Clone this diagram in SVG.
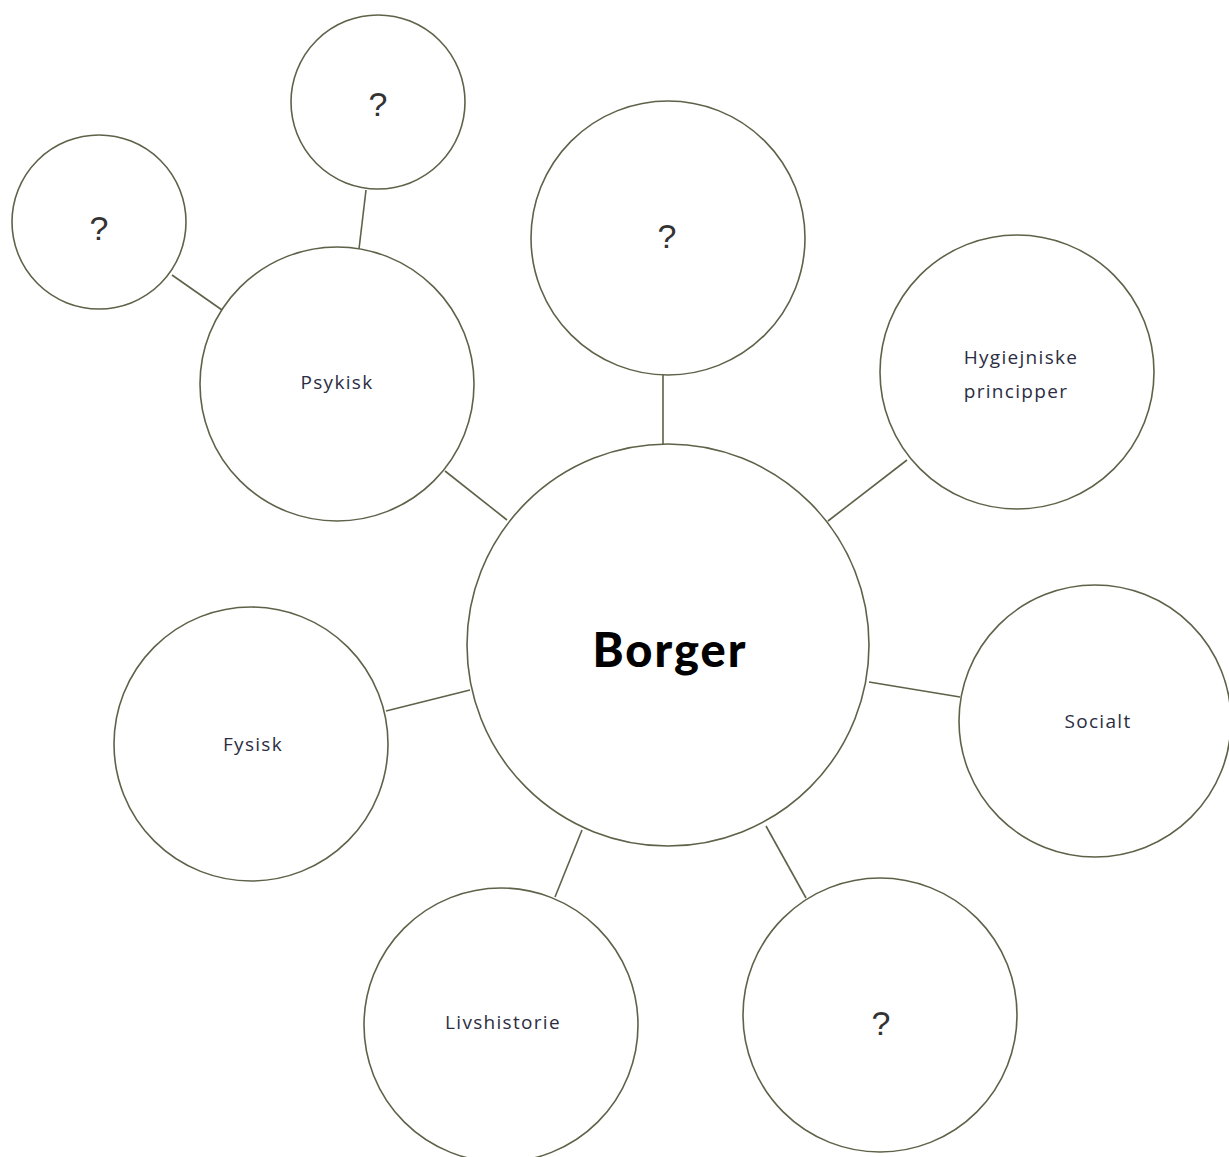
<svg xmlns="http://www.w3.org/2000/svg" width="1229" height="1157" viewBox="0 0 1229 1157">
<style>
.n{fill:#fff;stroke:#5f6148;stroke-width:1.6}
.c line{stroke:#5f6148;stroke-width:1.6}
.t{font-family:"Open Sans","Noto Sans",sans-serif;font-size:19px;letter-spacing:1.3px;fill:#2b2d42;text-anchor:middle}
.q{font-family:"Liberation Sans",Arial,sans-serif;font-size:34px;fill:#333;text-anchor:middle}
.b{font-family:"Lato","Noto Sans",sans-serif;font-weight:900;font-size:47px;letter-spacing:2px;fill:#000;text-anchor:middle}
</style>
<rect width="1229" height="1157" fill="#fff"/>
<g class="c" id="connectors">
<line x1="663" y1="374" x2="663" y2="445"/>
<line x1="907" y1="460" x2="828" y2="521"/>
<line x1="869" y1="682" x2="960" y2="697"/>
<line x1="766" y1="826" x2="806" y2="898"/>
<line x1="582" y1="830" x2="555" y2="897"/>
<line x1="470" y1="690" x2="386" y2="711"/>
<line x1="507" y1="520" x2="445" y2="471"/>
<line x1="366" y1="190" x2="359" y2="249"/>
<line x1="172" y1="275" x2="222" y2="310"/>
</g>
<g id="borger"><circle class="n" cx="668" cy="645" r="201"/><text class="b" x="670" y="667">Borger</text></g>
<g id="top-q"><circle class="n" cx="668" cy="238" r="137"/><text class="q" x="667" y="248">?</text></g>
<g id="hygiejniske"><circle class="n" cx="1017" cy="372" r="137"/><text class="t" x="1021" y="364">Hygiejniske</text><text class="t" x="1016" y="398">principper</text></g>
<g id="socialt"><circle class="n" cx="1095" cy="721" r="136"/><text class="t" x="1098" y="728">Socialt</text></g>
<g id="br-q"><circle class="n" cx="880" cy="1015" r="137"/><text class="q" x="881" y="1035">?</text></g>
<g id="livshistorie"><circle class="n" cx="501" cy="1025" r="137"/><text class="t" x="503" y="1029">Livshistorie</text></g>
<g id="fysisk"><circle class="n" cx="251" cy="744" r="137"/><text class="t" x="253" y="751">Fysisk</text></g>
<g id="psykisk"><circle class="n" cx="337" cy="384" r="137"/><text class="t" x="337" y="389">Psykisk</text></g>
<g id="small-top-q"><circle class="n" cx="378" cy="102" r="87"/><text class="q" x="378" y="116">?</text></g>
<g id="small-left-q"><circle class="n" cx="99" cy="222" r="87"/><text class="q" x="99" y="240">?</text></g>
</svg>
